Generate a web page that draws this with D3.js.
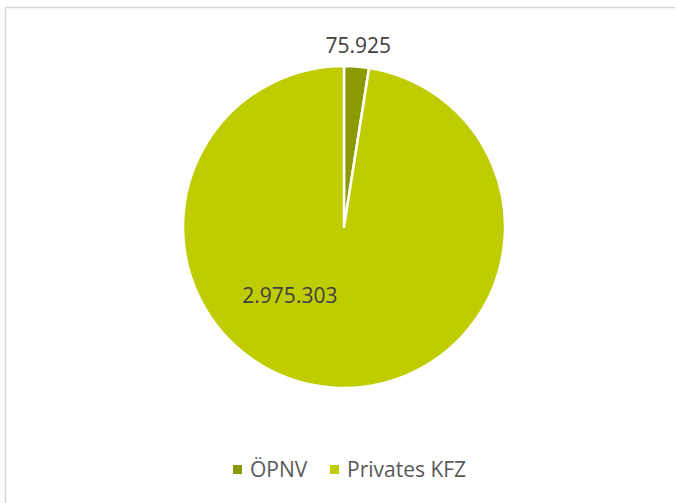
<!DOCTYPE html>
<html>
<head>
<meta charset="utf-8">
<script src="https://cdn.jsdelivr.net/npm/d3@7"></script>
<style>
  html, body { margin: 0; padding: 0; background: #fff; }
  svg { display: block; font-family: "Open Sans", sans-serif; }
</style>
</head>
<body>
<svg id="chart" width="675" height="503"></svg>
<script>
const categories = ["ÖPNV", "Privates KFZ"];
const values = [75925, 2975303];
const labels = ["75.925", "2.975.303"];
const colors = ["#8b9a00", "#bfcc00"];

const svg = d3.select("#chart");
const W = 675, H = 503;
const cx = 344, cy = 227, R = 161;

// chart border
svg.append("rect")
  .attr("x", 5.5).attr("y", 7.5)
  .attr("width", W + 20).attr("height", H + 20)
  .attr("fill", "#fff").attr("stroke", "#d9d9d9").attr("stroke-width", 1.5);

const color = d3.scaleOrdinal().domain(categories).range(colors);

const pie = d3.pie().sort(null).value(d => d.value);
const data = pie(categories.map((c, i) => ({ cat: c, value: values[i], label: labels[i] })));

const arc = d3.arc().innerRadius(0).outerRadius(R);

const g = svg.append("g").attr("transform", `translate(${cx},${cy})`);

g.selectAll("path.slice")
  .data(data)
  .join("path")
  .attr("class", "slice")
  .attr("d", arc)
  .attr("fill", d => color(d.data.cat))
  .attr("stroke", "#fff")
  .attr("stroke-width", 2.5)
  .attr("stroke-linejoin", "round");

// data labels
const outerLabelArc = d3.arc().innerRadius(R + 21).outerRadius(R + 21);
function labelPos(d, i) {
  if (i === 0) return outerLabelArc.centroid(d);
  const a = 218.5 * Math.PI / 180, rr = R * 0.54;
  return [rr * Math.sin(a), -rr * Math.cos(a)];
}
g.selectAll("text.lbl")
  .data(data)
  .join("text")
  .attr("class", "lbl")
  .attr("transform", (d, i) => `translate(${labelPos(d, i)})`)
  .attr("text-anchor", "middle")
  .attr("dy", "0.36em")
  .attr("font-size", 21)
  .attr("fill", "#404040")
  .text(d => d.data.label);

// legend
const legendX = [233, 330];
const leg = svg.append("g");
categories.forEach((c, i) => {
  leg.append("rect")
    .attr("x", legendX[i]).attr("y", 465)
    .attr("width", 9).attr("height", 9)
    .attr("fill", color(c));
  leg.append("text")
    .attr("x", legendX[i] + 17).attr("y", 477)
    .attr("font-size", 21)
    .attr("fill", "#595959")
    .text(c);
});
</script>
</body>
</html>
